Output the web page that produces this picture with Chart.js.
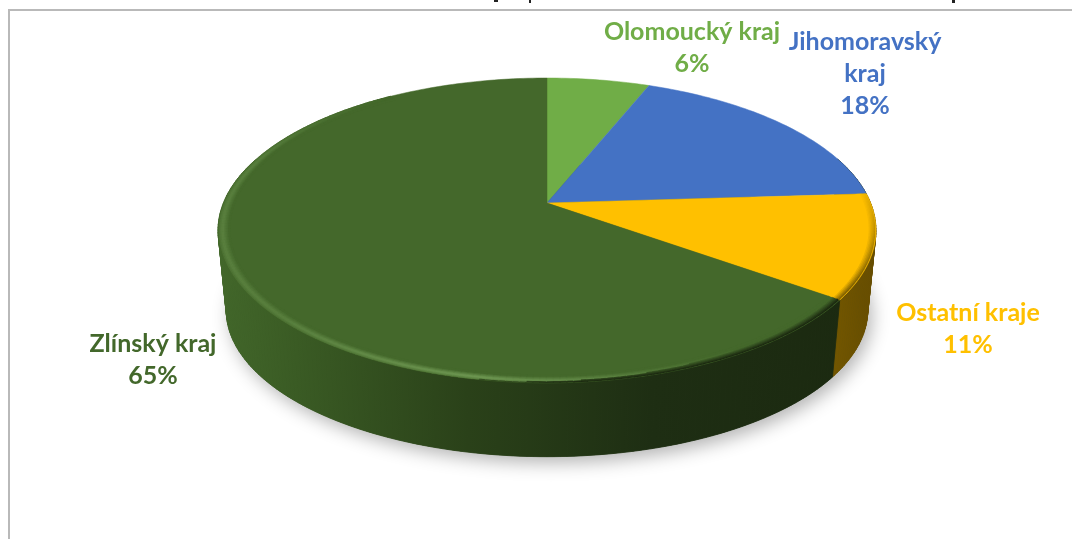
<!DOCTYPE html>
<html>
<head>
<meta charset="utf-8">
<style>
  html, body { margin: 0; background: #fff; }
  canvas { display: block; }
</style>
<script src="https://cdn.jsdelivr.net/npm/chart.js"></script>
</head>
<body>
<canvas id="pie3d" width="1072" height="539"></canvas>
<script>
    const categories = ['Olomoucký kraj', 'Jihomoravský kraj', 'Ostatní kraje', 'Zlínský kraj'];
    const shares = [6, 18, 11, 65];
    const sliceColors = ['#70ad47', '#4472c4', '#ffc000', '#44682b'];
    const labelColors = ['#70ad47', '#4472c4', '#ffc000', '#43682b'];

    // wrapping and placement of the labels, as set by hand in the original
    const labelBreaks = [['Olomoucký kraj'], ['Jihomoravský', 'kraj'], ['Ostatní kraje'], ['Zlínský kraj']];
    const labelSpots = [[692, 32], [865, 42], [968, 313], [153, 344]];

    // perspective of the disc: circle -> picture
    const cx = 547, cy = 203, R = 323.6, K = 147.5, P = -0.18;
    const floorDrop = 81, floorX = 0.975, floorY = 0.96;
    const STEP = Math.PI / 180;

    function rimPoint(a, s = 1) {
        const u = Math.cos(a) * s, v = Math.sin(a) * s, w = 1 + P * v;
        return [cx + R * u / w, cy + K * v / w];
    }
    function floorPoint(a) {
        const u = Math.cos(a), v = Math.sin(a), w = 1 + P * v;
        return [cx + R * floorX * u / w, cy + floorDrop + K * floorY * v / w];
    }

    function anglesOf(arc) {
        const list = [];
        for (let a = arc.startAngle; a < arc.endAngle; a += STEP) list.push(a);
        list.push(arc.endAngle);
        return list;
    }

    function wallStyle(ctx, i) {
        const g = ctx.createLinearGradient(218, 0, 876, 0);
        if (i === 2) {
            g.addColorStop(0, '#7f6000');
            g.addColorStop(0.9, '#7a5c00');
            g.addColorStop(1, '#654c00');
        } else {
            g.addColorStop(0, '#42672a');
            g.addColorStop(0.12, '#3a5b24');
            g.addColorStop(0.38, '#2a4119');
            g.addColorStop(0.66, '#1e2e13');
            g.addColorStop(1, '#1b2910');
        }
        return g;
    }

    function darkEdge(a) {
        const d = a / STEP;
        if (d < -10 || d > 110) return 0;
        if (d < 30) return (d + 10) / 40;
        if (d > 85) return (110 - d) / 25;
        return 1;
    }
    function lightEdge(a) {
        const d = a / STEP;
        if (d < 60 || d > 235) return 0;
        if (d < 100) return 0.15 + 0.85 * (d - 60) / 40;
        if (d < 135) return 1 - 0.5 * (d - 100) / 35;
        if (d < 195) return 0.5;
        return 0.5 * (235 - d) / 40;
    }

    function hexRgb(hex) {
        return [1, 3, 5].map((n) => parseInt(hex.substr(n, 2), 16));
    }
    function mix(a, b, t) {
        return 'rgb(' + a.map((c, n) => Math.round(c + (b[n] - c) * t)).join(',') + ')';
    }

    const disc3d = {
        id: 'disc3d',
        beforeDraw(chart) {
            const ctx = chart.ctx;
            ctx.save();
            ctx.fillStyle = '#fff';
            ctx.fillRect(0, 0, 1072, 539);
            ctx.strokeStyle = '#b9b9b9';
            ctx.lineWidth = 2;
            ctx.beginPath();
            ctx.moveTo(1072, 10);
            ctx.lineTo(9, 10);
            ctx.lineTo(9, 539);
            ctx.stroke();
            // descenders of the cropped heading above the frame
            ctx.fillStyle = '#222';
            ctx.fillRect(494, 0, 4, 2);
            ctx.fillRect(529, 0, 2, 3);
            ctx.fillRect(952, 0, 3, 3);
            ctx.restore();
        },
        beforeDatasetDraw(chart) {
            const ctx = chart.ctx;
            const arcs = chart.getDatasetMeta(0).data;
            ctx.save();

            // ground shadow
            ctx.save();
            ctx.shadowColor = 'rgba(0,0,0,0.3)';
            ctx.shadowBlur = 18;
            ctx.shadowOffsetY = 6;
            ctx.shadowOffsetX = 4;
            ctx.fillStyle = '#2a4119';
            ctx.beginPath();
            for (let d = 0; d < 360; d += 2) {
                const p = floorPoint(d * STEP);
                ctx.lineTo(p[0], p[1]);
            }
            ctx.closePath();
            ctx.fill();
            ctx.restore();

            // side wall
            arcs.forEach((arc, i) => {
                const style = wallStyle(ctx, i);
                ctx.fillStyle = style;
                ctx.strokeStyle = style;
                ctx.lineWidth = 0.8;
                const list = anglesOf(arc);
                for (let n = 0; n < list.length - 1; n++) {
                    const a = list[n], b = list[n + 1];
                    if (Math.sin(a) < -0.3 && Math.sin(b) < -0.3) continue;
                    const p1 = rimPoint(a), p2 = rimPoint(b), p3 = floorPoint(b), p4 = floorPoint(a);
                    ctx.beginPath();
                    ctx.moveTo(p1[0], p1[1]);
                    ctx.lineTo(p2[0], p2[1]);
                    ctx.lineTo(p3[0], p3[1]);
                    ctx.lineTo(p4[0], p4[1]);
                    ctx.closePath();
                    ctx.fill();
                    ctx.stroke();
                }
            });

            // top face
            arcs.forEach((arc) => {
                ctx.fillStyle = arc.options.backgroundColor;
                ctx.strokeStyle = arc.options.backgroundColor;
                ctx.lineWidth = 0.5;
                ctx.beginPath();
                ctx.moveTo(cx, cy);
                anglesOf(arc).forEach((a) => {
                    const p = rimPoint(a);
                    ctx.lineTo(p[0], p[1]);
                });
                ctx.closePath();
                ctx.fill();
                ctx.stroke();
            });

            // bevel round the rim, opaque so the short pieces do not bead where they meet
            const lit = [140, 185, 110], shade = [28, 42, 17];
            ctx.lineWidth = 2.2;
            arcs.forEach((arc, i) => {
                const base = hexRgb(sliceColors[i]);
                const list = anglesOf(arc);
                const edgeTarget = i === 2 ? [127, 96, 0] : shade;
                for (let r = 0; r < 8; r++) {
                    const s = 0.995 - r * 0.004;
                    for (let n = 0; n < list.length - 1; n++) {
                        const a = list[n], b = list[n + 1];
                        const dark = darkEdge(a), light = i === 3 ? lightEdge(a) : 0;
                        if (i < 2 || (dark === 0 && light === 0)) continue;
                        const p = rimPoint(a, s), q = rimPoint(b + 0.003, s);
                        const peak = Math.max(0, 1 - Math.abs(r - 2.5) / 4.5);
                        const darkPart = Math.max(0, 1 - r / 5);
                        let color;
                        if (dark * darkPart > light * peak) color = mix(base, edgeTarget, dark * darkPart);
                        else color = mix(base, lit, 0.62 * light * peak);
                        ctx.strokeStyle = color;
                        ctx.beginPath();
                        ctx.moveTo(p[0], p[1]);
                        ctx.lineTo(q[0], q[1]);
                        ctx.stroke();
                    }
                }
            });
            ctx.restore();
            return false;
        },
        afterDraw(chart) {
            const ctx = chart.ctx;
            ctx.save();
            ctx.font = 'bold 25px Lato, "Open Sans", sans-serif';
            ctx.textAlign = 'center';
            ctx.textBaseline = 'middle';
            categories.forEach((name, i) => {
                const lines = labelBreaks[i].concat(shares[i] + '%');
                ctx.fillStyle = labelColors[i];
                lines.forEach((line, n) => {
                    ctx.fillText(line, labelSpots[i][0], labelSpots[i][1] + n * 32);
                });
            });
            ctx.restore();
        }
    };

    new Chart(document.getElementById('pie3d'), {
        type: 'pie',
        data: {
            labels: categories,
            datasets: [{
                data: shares,
                backgroundColor: sliceColors,
                borderWidth: 0
            }]
        },
        options: {
            responsive: false,
            animation: false,
            plugins: {
                legend: { display: false },
                tooltip: { enabled: false }
            }
        },
        plugins: [disc3d]
    });
</script>
</body>
</html>
